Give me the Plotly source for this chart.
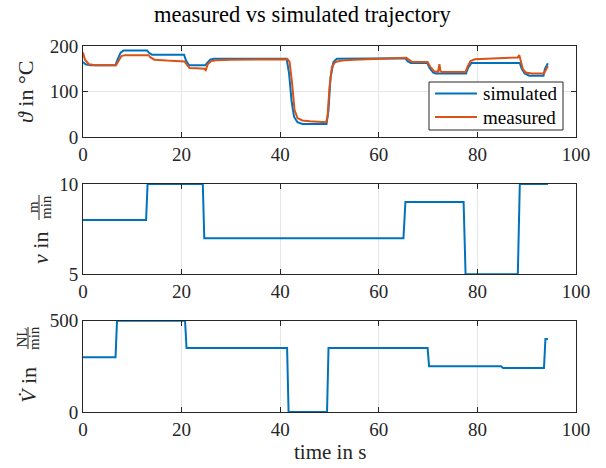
import plotly.graph_objects as go

# ---------------- data ----------------
t_sim = [0, 0.5, 1.5, 6.6, 7.0, 7.6, 8.2, 13.0, 13.4, 14.0, 20.5, 20.9, 21.5, 24.8, 25.2, 25.8, 26.5,
         41.3, 41.8, 42.3, 42.8, 43.5, 44.5, 49.4, 49.8, 50.2, 50.8, 51.5, 65.4, 65.9, 66.5, 69.8,
         70.3, 71.0, 71.5, 77.7, 78.1, 78.8, 88.6, 89.0, 89.6, 90.5, 93.4, 93.7, 94.3]
theta_sim = [165, 160, 158, 158, 170, 185, 190, 190, 185, 181, 181, 168, 158, 158, 163, 170, 172,
             172, 140, 80, 45, 33, 29, 29, 60, 130, 165, 172, 173, 166, 163, 163,
             152, 142, 140, 140, 152, 163, 163, 150, 140, 135, 135, 150, 162]

t_meas = [0, 0.4, 1.2, 2.5, 6.7, 7.2, 7.8, 8.5, 13.3, 13.7, 14.5, 17, 20.6, 21.0, 21.6, 23, 24.6,
          24.9, 25.3, 26.0, 27, 30, 35, 41.5, 41.9, 42.4, 42.9, 43.5, 44.5, 46, 49.3, 49.6, 50.0,
          50.5, 51.2, 52.5, 55, 60, 65.6, 66.1, 66.8, 69.9, 70.4, 71.2, 72.0, 72.3, 72.5, 72.8, 75,
          77.6, 78.0, 78.6, 79.5, 82, 85, 88.2, 88.5, 88.8, 89.2, 89.8, 91, 93.5, 93.9, 94.3]
theta_meas = [186, 170, 160, 158, 158, 168, 178, 180, 180, 175, 170, 168, 166, 160, 152, 151, 150,
              147, 160, 167, 169, 170, 171, 171, 165, 120, 60, 42, 37, 35, 33, 45, 110,
              155, 165, 168, 170, 172, 174, 170, 165, 165, 155, 145, 143, 160, 145, 143, 143,
              143, 155, 167, 171, 172, 173, 175, 180, 165, 150, 142, 140, 140, 150, 156]

t_v = [0, 12.8, 13.1, 24.3, 24.6, 65.0, 65.4, 77.2, 77.6, 88.2, 88.6, 94.3]
v_vals = [8, 8, 10, 10, 7, 7, 9, 9, 5, 5, 10, 10]

t_flow = [0, 6.6, 6.9, 20.7, 21.0, 41.4, 41.7, 49.5, 49.8, 69.9, 70.2, 84.8, 85.2, 93.5, 93.8, 94.3]
flow_vals = [300, 300, 500, 500, 350, 350, 0, 0, 350, 350, 250, 250, 241, 241, 400, 400]

series_names = ["simulated", "measured"]

x_ticks = [0, 20, 40, 60, 80, 100]
theta_ticks = [0, 100, 200]
v_ticks = [5, 10]
flow_ticks = [0, 500]

# ---------------- style ----------------
W, H = 606, 468
FONT = "Liberation Serif"
AX = "#262626"
BLUE = "#0072BD"
ORANGE = "#D95319"
series_colors = [BLUE, ORANGE]

def px(x):
    return x / W

def py(y):
    return 1 - y / H

fig = go.Figure()
fig.add_trace(go.Scatter(x=t_sim, y=theta_sim, mode="lines", name=series_names[0],
                         line=dict(color=BLUE, width=2), xaxis="x", yaxis="y"))
fig.add_trace(go.Scatter(x=t_meas, y=theta_meas, mode="lines", name=series_names[1],
                         line=dict(color=ORANGE, width=2), xaxis="x", yaxis="y"))
fig.add_trace(go.Scatter(x=t_v, y=v_vals, mode="lines", name="v",
                         line=dict(color=BLUE, width=2), xaxis="x2", yaxis="y2"))
fig.add_trace(go.Scatter(x=t_flow, y=flow_vals, mode="lines", name="flow",
                         line=dict(color=BLUE, width=2), xaxis="x3", yaxis="y3"))

common = dict(ticks="inside", ticklen=5, tickcolor=AX, tickwidth=1,
              showline=True, linecolor=AX, linewidth=1, mirror="ticks",
              showgrid=True, gridcolor="#e6e6e6", gridwidth=1, zeroline=False,
              automargin=False,
              tickfont=dict(family=FONT, size=19, color=AX))

xdom = [px(83), px(576)]
doms = [(46, 137.3), (184, 274.3), (320.7, 412)]
yranges = [[0, 200], [5, 10], [0, 500]]
yticks = [theta_ticks, v_ticks, flow_ticks]

layout = dict(width=W, height=H, margin=dict(l=0, r=0, t=0, b=0, autoexpand=False),
              plot_bgcolor="white", paper_bgcolor="white", showlegend=False,
              font=dict(family=FONT, color=AX))
for i in range(3):
    s = "" if i == 0 else str(i + 1)
    layout["xaxis" + s] = dict(domain=xdom, range=[0, 100], tickvals=x_ticks,
                               anchor="y" + s, **common)
    layout["yaxis" + s] = dict(domain=[py(doms[i][1]), py(doms[i][0])], range=yranges[i],
                               tickvals=yticks[i], anchor="x" + s, **common)
fig.update_layout(**layout)

ann = []
shapes = []
# title
ann.append(dict(text="measured vs simulated trajectory", x=0.5, y=py(15), xref="paper", yref="paper",
                showarrow=False, xanchor="center", yanchor="middle",
                font=dict(family=FONT, size=22.5, color="black")))
# x label
ann.append(dict(text="time in s", x=px(329.5), y=py(466), xref="paper", yref="paper",
                showarrow=False, xanchor="center", yanchor="bottom",
                font=dict(family=FONT, size=21, color=AX)))
# y labels
ann.append(dict(text="<i>ϑ</i> in °C", x=px(26), y=py(92), xref="paper", yref="paper",
                showarrow=False, textangle=-90, xanchor="center", yanchor="middle",
                font=dict(family=FONT, size=22, color=AX)))
ann.append(dict(text="<i>v</i> in", x=px(40), y=py(248), xref="paper", yref="paper",
                showarrow=False, textangle=-90, xanchor="center", yanchor="middle",
                font=dict(family=FONT, size=22, color=AX)))
ann.append(dict(text="m", x=px(33), y=py(207), xref="paper", yref="paper",
                showarrow=False, textangle=-90, xanchor="center", yanchor="middle",
                font=dict(family=FONT, size=15, color=AX)))
ann.append(dict(text="min", x=px(46), y=py(207), xref="paper", yref="paper",
                showarrow=False, textangle=-90, xanchor="center", yanchor="middle",
                font=dict(family=FONT, size=15, color=AX)))
ann.append(dict(text="<i>V\u0307</i> in", x=px(28), y=py(385), xref="paper", yref="paper",
                showarrow=False, textangle=-90, xanchor="center", yanchor="middle",
                font=dict(family=FONT, size=22, color=AX)))
ann.append(dict(text="NL", x=px(21.5), y=py(338), xref="paper", yref="paper",
                showarrow=False, textangle=-90, xanchor="center", yanchor="middle",
                font=dict(family=FONT, size=15, color=AX)))
ann.append(dict(text="min", x=px(34), y=py(338), xref="paper", yref="paper",
                showarrow=False, textangle=-90, xanchor="center", yanchor="middle",
                font=dict(family=FONT, size=15, color=AX)))

# fraction bars
shapes.append(dict(type="line", xref="paper", yref="paper", x0=px(39), x1=px(39),
                   y0=py(195), y1=py(220), line=dict(color=AX, width=1)))
shapes.append(dict(type="line", xref="paper", yref="paper", x0=px(28), x1=px(28),
                   y0=py(327), y1=py(349), line=dict(color=AX, width=1)))

# legend box (drawn explicitly to match the reference's compact layout)
shapes.append(dict(type="rect", xref="paper", yref="paper", x0=px(429), x1=px(563),
                   y0=py(130), y1=py(82), fillcolor="white", line=dict(color=AX, width=1),
                   layer="above"))
for k, (nm, col) in enumerate(zip(series_names, series_colors)):
    yc = 93.5 + 23.5 * k
    shapes.append(dict(type="line", xref="paper", yref="paper", x0=px(435), x1=px(477),
                       y0=py(yc), y1=py(yc), line=dict(color=col, width=2), layer="above"))
    ann.append(dict(text=nm, x=px(481), y=py(yc), xref="paper", yref="paper",
                    showarrow=False, xanchor="left", yanchor="middle",
                    font=dict(family=FONT, size=19, color="black")))

fig.update_layout(annotations=ann, shapes=shapes)

fig.write_html("out.html")
